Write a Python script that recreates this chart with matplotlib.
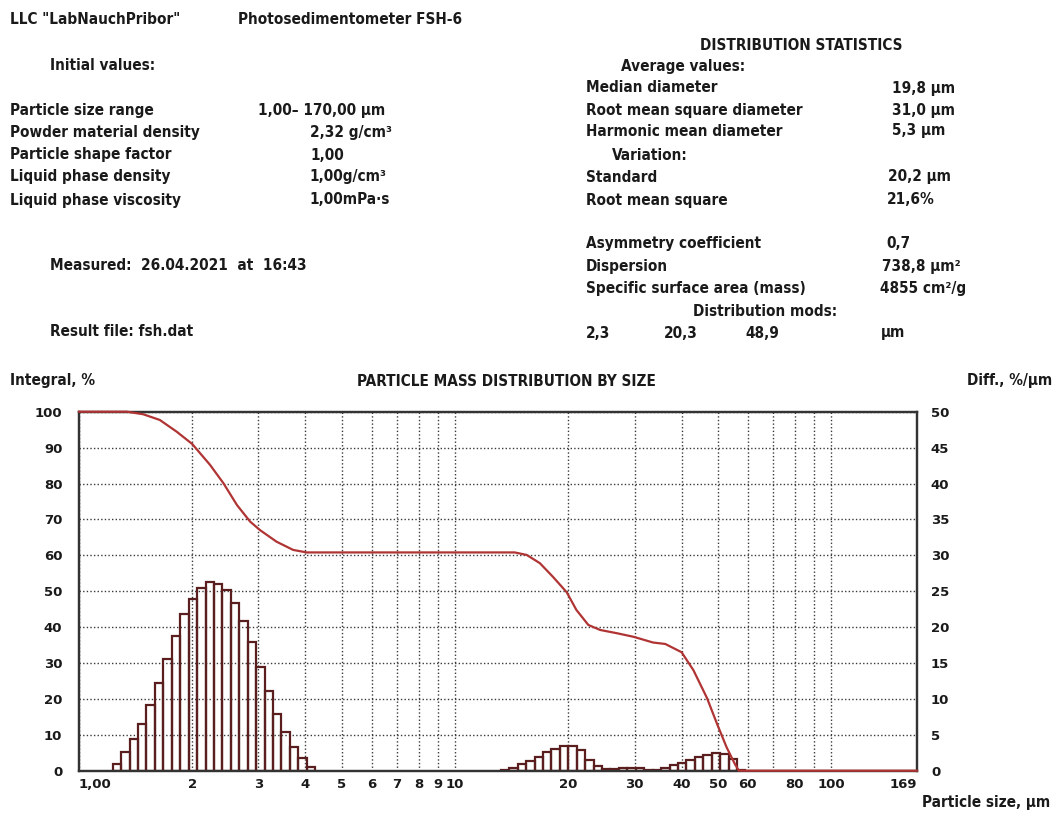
import matplotlib
matplotlib.use("Agg")
import matplotlib.pyplot as plt
import numpy as np

# Size classes grow geometrically by this ratio, starting at 1 µm
size_ratio = 1.053

# Differential mass distribution, %/µm, for consecutive size classes
fine_start = 4
fine_diff = [0.95, 2.6, 4.4, 6.45, 9.1, 12.15, 15.5, 18.75, 21.8, 23.95,
             25.45, 26.25, 26.05, 25.1, 23.3, 20.85, 17.9, 14.5, 11.15, 7.95,
             5.4, 3.3, 1.7, 0.45]
coarse_start = 50
coarse_diff = [0.1, 0.4, 0.95, 1.35, 1.9, 2.55, 3.0, 3.45, 3.45, 2.9,
               1.45, 0.65, 0.28, 0.18, 0.35, 0.37, 0.35, 0.1, 0.1, 0.4,
               0.75, 1.1, 1.5, 1.95, 2.25, 2.4, 2.35, 1.65, 0.1]

# Integral (oversize) curve, %
integral_size = [1.0, 1.34, 1.48, 1.64, 1.82, 2.0, 2.23, 2.42, 2.63, 2.85,
                 3.03, 3.35, 3.71, 4.03, 14.4, 15.5, 16.8, 18.2, 19.8, 21.0,
                 22.6, 24.3, 26.9, 29.8, 33.6, 36.2, 40.0, 43.0, 46.7, 49.8,
                 52.7, 55.4, 56.8, 169.0]
integral_pct = [100, 100, 99.3, 97.7, 94.4, 91.0, 85.2, 80.1, 74.0, 69.4,
                67.0, 63.8, 61.5, 60.8, 60.8, 60.1, 57.8, 54.0, 49.7, 44.8,
                40.6, 39.2, 38.3, 37.3, 35.7, 35.3, 33.0, 28.0, 20.3, 12.8,
                6.5, 1.9, 0.0, 0.0]

x_ticks = [1, 2, 3, 4, 5, 6, 7, 8, 9, 10, 20, 30, 40, 50, 60, 70, 80, 90, 100, 169]
x_labels = ["1,00", "2", "3", "4", "5", "6", "7", "8", "9", "10", "20", "30",
            "40", "50", "60", "", "80", "", "100", "169"]

info_rows = [
    ("Particle size range", "1,00– 170,00 µm", 258),
    ("Powder material density", "2,32 g/cm³", 310),
    ("Particle shape factor", "1,00", 310),
    ("Liquid phase density", "1,00g/cm³", 309),
    ("Liquid phase viscosity", "1,00mPa·s", 309),
]
info_y = [110, 132, 155, 177, 200]

stats_rows = [
    ("Median diameter", "19,8 µm", 892, 88),
    ("Root mean square diameter", "31,0 µm", 892, 110),
    ("Harmonic mean diameter", "5,3 µm", 892, 131),
    ("Standard", "20,2 µm", 888, 177),
    ("Root mean square", "21,6%", 887, 200),
    ("Asymmetry coefficient", "0,7", 886, 243),
    ("Dispersion", "738,8 µm²", 882, 266),
    ("Specific surface area (mass)", "4855 cm²/g", 880, 288),
]
mode_values = ["2,3", "20,3", "48,9"]

W, H = 1057, 817
BAR_EDGE = "#5a1e1e"
CURVE = "#b03434"
GRID = "#3a3a3a"
TXT = dict(fontsize=11, fontweight="bold", fontstretch="condensed", color="#1a1a1a")

fig = plt.figure(figsize=(W / 100, H / 100), dpi=100)


def put(x, y, s, **kw):
    opts = dict(TXT)
    opts.update(kw)
    fig.text(x / W, 1 - y / H, s, va="center", **opts)


# header and measurement parameters
put(10, 20, 'LLC "LabNauchPribor"')
put(238, 20, "Photosedimentometer FSH-6")
put(50, 66, "Initial values:")
for (name, value, vx), y in zip(info_rows, info_y):
    put(10, y, name)
    put(vx, y, value)
put(50, 266, "Measured:  26.04.2021  at  16:43")
put(50, 332, "Result file: fsh.dat")

put(700, 45, "DISTRIBUTION STATISTICS")
put(621, 66, "Average values:")
put(612, 155, "Variation:")
for name, value, vx, y in stats_rows:
    put(586, y, name)
    put(vx, y, value)
put(693, 311, "Distribution mods:")
for vx, m in zip([586, 664, 745], mode_values):
    put(vx, 333, m)
put(881, 333, "µm")

put(10, 381, "Integral, %")
put(506, 381, "PARTICLE MASS DISTRIBUTION BY SIZE", ha="center")
put(1052, 381, "Diff., %/µm", ha="right")
put(1050, 803, "Particle size, µm", ha="right")

# plot area: differential axis (right) underneath, integral axis (left) on top
left, right, top, bottom = 79, 917, 411.7, 770.7
ax = fig.add_axes([left / W, 1 - bottom / H, (right - left) / W, (bottom - top) / H])
ax2 = ax.twinx()
ax.set_xscale("log")
ax.set_xlim(1, 169)
ax.set_ylim(0, 50)
ax2.set_ylim(0, 100)


def class_edges(start, n):
    idx = np.arange(start, start + n + 1)
    return size_ratio ** idx


for start, values in [(fine_start, fine_diff), (coarse_start, coarse_diff)]:
    edges = class_edges(start, len(values))
    ax.bar(edges[:-1], values, width=np.diff(edges), align="edge",
           facecolor="none", edgecolor=BAR_EDGE, linewidth=1.6, zorder=3)

ax2.plot(integral_size, integral_pct, color=CURVE, linewidth=1.6, zorder=4,
         clip_on=False)

# ticks and grid (set after twinx, which resets tick sides and scales)
ax.set_xticks(x_ticks)
ax.set_xticklabels(x_labels)
ax.xaxis.set_minor_locator(matplotlib.ticker.NullLocator())
ax.yaxis.tick_right()
ax.yaxis.set_label_position("right")
ax.set_yticks(np.arange(0, 51, 5))
ax2.yaxis.tick_left()
ax2.set_yticks(np.arange(0, 101, 10))
ax2.tick_params(axis="x", which="both", length=0, labelbottom=False)

ax.tick_params(axis="both", length=0, labelsize=9.5, labelcolor="#1a1a1a")
ax.tick_params(axis="y", pad=10)
ax.tick_params(axis="x", pad=5)
ax2.tick_params(axis="y", length=0, labelsize=9.5, labelcolor="#1a1a1a", pad=12)
for lbl in ax.get_xticklabels() + ax.get_yticklabels() + ax2.get_yticklabels():
    lbl.set_fontweight("bold")
ax.get_xticklabels()[0].set_horizontalalignment("left")
ax.get_xticklabels()[-1].set_horizontalalignment("right")

ax.grid(True, which="major", color=GRID, linestyle=(0, (1, 1.6)), linewidth=1.0)
ax.set_axisbelow(True)

for a in (ax, ax2):
    for sp in a.spines.values():
        sp.set_color("#333333")
        sp.set_linewidth(1.6)

fig.savefig("out.png", dpi=100)
